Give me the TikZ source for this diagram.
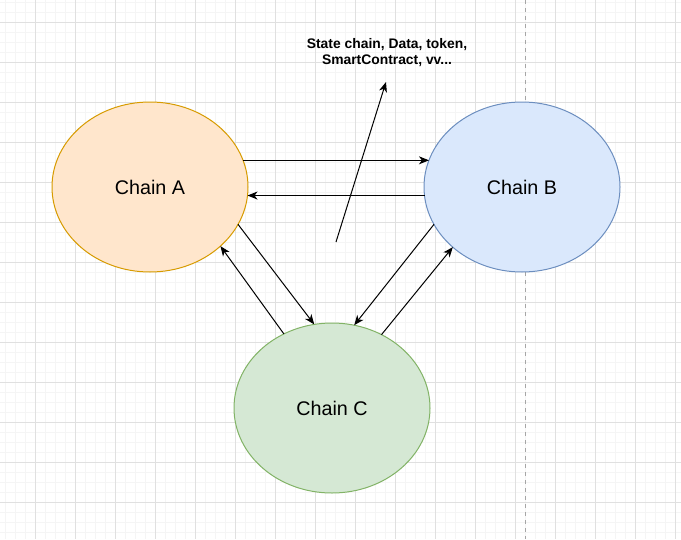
\documentclass[tikz,border=0pt]{standalone}
\usepackage{fontspec}
\setmainfont{Liberation Sans}
\usetikzlibrary{shapes.geometric,arrows.meta}
\definecolor{afill}{HTML}{FFE6CC}
\definecolor{adraw}{HTML}{D79B00}
\definecolor{bfill}{HTML}{DAE8FC}
\definecolor{bdraw}{HTML}{6C8EBF}
\definecolor{cfill}{HTML}{D5E8D4}
\definecolor{cdraw}{HTML}{82B366}
\definecolor{gridminor}{HTML}{F5F5F5}
\definecolor{gridmajor}{HTML}{E0E0E0}
\begin{document}
\begin{tikzpicture}[x=0.75pt,y=-0.75pt,
  minorgrid/.style={draw=gridminor,line width=0.75pt},
  majorgrid/.style={draw=gridmajor,line width=0.75pt},
  chain/.style={ellipse,minimum width=147pt,minimum height=127.5pt,inner sep=0pt,outer sep=0pt,line width=0.75pt,font=\fontsize{14.8}{17}\selectfont},
  conn/.style={-{Stealth[length=7.5pt,width=6pt,inset=2.2pt]},line width=0.75pt,black},
  note/.style={align=center,font=\bfseries\fontsize{10.4}{12}\selectfont,inner sep=0pt}]
\useasboundingbox (0,0) rectangle (681,539);
\fill[white] (0,0) rectangle (681,539);
\foreach \x in {5,15,...,675} \draw[minorgrid] (\x,0) -- (\x,539);
\foreach \y in {2,12,...,535} \draw[minorgrid] (0,\y) -- (681,\y);
\foreach \x in {35,75,...,675} \draw[majorgrid] (\x,0) -- (\x,539);
\foreach \y in {22,62,...,535} \draw[majorgrid] (0,\y) -- (681,\y);
\draw[gray!70,dashed,line width=0.75pt] (525,0) -- (525,539);

\node[chain,fill=afill,draw=adraw] (A) at (150,187) {Chain A};
\node[chain,fill=bfill,draw=bdraw] (B) at (522,187) {Chain B};
\node[chain,fill=cfill,draw=cdraw] (C) at (332,408) {Chain C};

\node[note] (lbl) at (387,53) {State chain, Data, token,\\SmartContract, vv...};

\draw[conn] (A.16) -- (B.164);
\draw[conn] (B.185) -- (A.355);
\draw[conn] (A.-23) -- (C.102);
\draw[conn] (C.123.5) -- (A.-40.7);
\draw[conn] (B.203) -- (C.75);
\draw[conn] (C.56) -- (B.221);

\coordinate (fs) at (336,242);
\coordinate (fe) at (386,82);
\draw[conn] (fs) -- (fe);
\end{tikzpicture}
\end{document}
